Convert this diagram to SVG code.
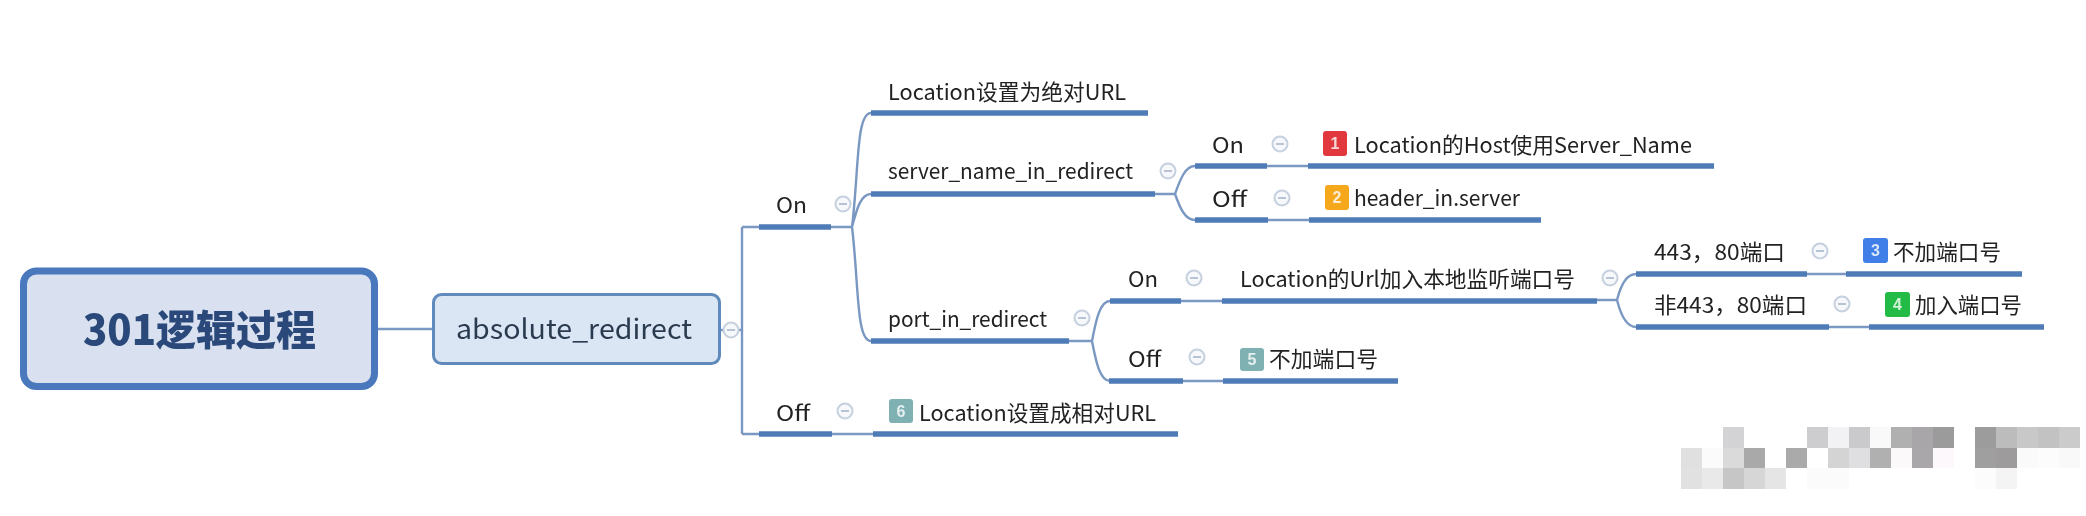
<svg xmlns="http://www.w3.org/2000/svg" width="2086" height="516" viewBox="0 0 2086 516">
<style>
text{font-family:"Noto Sans CJK SC","Liberation Sans",sans-serif;fill:#222;font-size:21.5px;font-weight:400}
.u{stroke:#4f7bb6;stroke-width:5.5;fill:none}
.c{stroke:#7a98c2;stroke-width:2.4;fill:none}
.n{font-size:16px;fill:#fff;text-anchor:middle;font-family:"Liberation Sans",sans-serif;font-weight:bold;opacity:.8}
.ic circle{fill:#f6f8fb;stroke:#c6d0de;stroke-width:2}
.ic path{stroke:#b8c4d4;stroke-width:2;fill:none}
.m{shape-rendering:crispEdges}
</style>
<defs>
<filter id="b" x="-2%" y="-5%" width="104%" height="110%"><feGaussianBlur stdDeviation="0.75"/></filter>
<g id="col" class="ic"><circle r="7.5"/><path d="M-4 0H4"/></g>
</defs>
<rect width="2086" height="516" fill="#fff"/>
<g filter="url(#b)">
<g id="connectors">
<path class="c" d="M378 329H432"/>
<path class="c" d="M721 330H742M742 227V434"/>
<path class="c" d="M742 227H759M742 434H759"/>
<path class="c" d="M831 227H852M852 227C859 170 856 113 871 113M852 227C857 208 861 194 871 194M852 227C859 285 856 341 871 341"/>
<path class="c" d="M1155 194H1175M1175 194C1180 180 1185 166 1195 166M1175 194C1180 208 1185 220 1195 220"/>
<path class="c" d="M1069 341H1092M1092 341C1096 320 1100 301 1110 301M1092 341C1096 362 1100 381 1110 381"/>
<path class="c" d="M1597 300H1617M1617 300C1620 288 1626 274 1636 274M1617 300C1620 312 1626 327 1636 327"/>
<path class="c" d="M1267 166H1308M1268 220H1309M832 434H873M1181 301H1222M1183 381H1223M1807 274H1846M1829 327H1869"/>
</g>
<g id="root"><rect x="23.500" y="271" width="351" height="115.500" rx="13" fill="#d9e0ef" stroke="#4a78bd" stroke-width="7"/>
<text x="83" y="345" style="font-size:41px;fill:#2a4a7a;font-weight:900" textLength="233" lengthAdjust="spacingAndGlyphs">301逻辑过程</text></g>
<g id="absolute_redirect"><rect x="433.500" y="294.500" width="286" height="69" rx="8" fill="#dbe6f4" stroke="#5f8abb" stroke-width="3"/>
<text x="456" y="339" style="font-size:27px;fill:#2b3a50" textLength="236" lengthAdjust="spacingAndGlyphs">absolute_redirect</text><use href="#col" x="731" y="330"/></g>
<g id="on"><path class="u" d="M759 227H831"/><text x="776" y="213" textLength="31" lengthAdjust="spacingAndGlyphs">On</text><use href="#col" x="843" y="204"/></g>
<g id="off"><path class="u" d="M759 434H832"/><text x="776" y="421" textLength="34" lengthAdjust="spacingAndGlyphs">Off</text><use href="#col" x="845" y="411"/></g>
<g id="loc-abs"><path class="u" d="M871 113H1148"/><text x="888" y="100" textLength="238" lengthAdjust="spacingAndGlyphs">Location设置为绝对URL</text></g>
<g id="server-name"><path class="u" d="M871 194H1155"/><text x="888" y="179" textLength="245" lengthAdjust="spacingAndGlyphs">server_name_in_redirect</text><use href="#col" x="1168" y="171"/></g>
<g id="port-in"><path class="u" d="M871 341H1069"/><text x="888" y="327" textLength="159" lengthAdjust="spacingAndGlyphs">port_in_redirect</text><use href="#col" x="1082" y="318"/></g>
<g id="loc-rel"><path class="u" d="M873 434H1178"/><rect x="889" y="399" width="24" height="24" rx="3" fill="#7fb0b2"/><text class="n" x="901" y="417">6</text><text x="919" y="421" textLength="237" lengthAdjust="spacingAndGlyphs">Location设置成相对URL</text></g>
<g id="sn-on"><path class="u" d="M1195 166H1267"/><text x="1212" y="153" textLength="32" lengthAdjust="spacingAndGlyphs">On</text><use href="#col" x="1280" y="144"/></g>
<g id="sn-off"><path class="u" d="M1195 220H1268"/><text x="1212" y="207" textLength="35" lengthAdjust="spacingAndGlyphs">Off</text><use href="#col" x="1282" y="198"/></g>
<g id="host"><path class="u" d="M1308 166H1714"/><rect x="1323" y="131" width="24" height="25" rx="3" fill="#e0383e"/><text class="n" x="1335" y="149">1</text><text x="1354" y="153" textLength="338" lengthAdjust="spacingAndGlyphs">Location的Host使用Server_Name</text></g>
<g id="header"><path class="u" d="M1309 220H1541"/><rect x="1325" y="185" width="24" height="25" rx="3" fill="#f5a81f"/><text class="n" x="1337" y="203">2</text><text x="1354" y="206" textLength="166" lengthAdjust="spacingAndGlyphs">header_in.server</text></g>
<g id="pi-on"><path class="u" d="M1110 301H1181"/><text x="1128" y="287" textLength="30" lengthAdjust="spacingAndGlyphs">On</text><use href="#col" x="1194" y="278"/></g>
<g id="pi-off"><path class="u" d="M1109 381H1183"/><text x="1128" y="367" textLength="33" lengthAdjust="spacingAndGlyphs">Off</text><use href="#col" x="1197" y="357"/></g>
<g id="listen"><path class="u" d="M1222 301H1597"/><text x="1240" y="287" textLength="335" lengthAdjust="spacingAndGlyphs">Location的Url加入本地监听端口号</text><use href="#col" x="1610" y="278"/></g>
<g id="no-port-5"><path class="u" d="M1223 381H1398"/><rect x="1240" y="348" width="24" height="23" rx="3" fill="#7fb0b2"/><text class="n" x="1252" y="365">5</text><text x="1269" y="367" textLength="109" lengthAdjust="spacingAndGlyphs">不加端口号</text></g>
<g id="p443"><path class="u" d="M1636 274H1807"/><text x="1654" y="260" textLength="131" lengthAdjust="spacingAndGlyphs">443，80端口</text><use href="#col" x="1820" y="251"/></g>
<g id="p-non443"><path class="u" d="M1636 327H1829"/><text x="1654" y="313" textLength="153" lengthAdjust="spacingAndGlyphs">非443，80端口</text><use href="#col" x="1842" y="304"/></g>
<g id="no-port-3"><path class="u" d="M1846 274H2022"/><rect x="1863" y="238" width="25" height="25" rx="3" fill="#3f7fe8"/><text class="n" x="1875.500" y="256">3</text><text x="1893" y="260" textLength="108" lengthAdjust="spacingAndGlyphs">不加端口号</text></g>
<g id="add-port-4"><path class="u" d="M1869 327H2044"/><rect x="1885" y="292" width="25" height="25" rx="3" fill="#22bb44"/><text class="n" x="1897.500" y="310">4</text><text x="1915" y="313" textLength="107" lengthAdjust="spacingAndGlyphs">加入端口号</text></g>
</g>
<g id="mosaic" class="m">
<rect x="1723" y="427" width="21" height="21" fill="#d3d3d5"/><rect x="1807" y="427" width="21" height="21" fill="#cdcdcf"/><rect x="1828" y="427" width="21" height="21" fill="#f2f2f4"/><rect x="1849" y="427" width="21" height="21" fill="#cacacc"/><rect x="1870" y="427" width="21" height="21" fill="#f9f9f9"/><rect x="1891" y="427" width="21" height="21" fill="#b0b0b0"/><rect x="1912" y="427" width="21" height="21" fill="#a8a6a9"/><rect x="1933" y="427" width="21" height="21" fill="#9b9b9c"/><rect x="1975" y="427" width="21" height="21" fill="#9c9c9c"/><rect x="1996" y="427" width="21" height="21" fill="#bcbcbc"/><rect x="2017" y="427" width="21" height="21" fill="#c8c8c8"/><rect x="2038" y="427" width="21" height="21" fill="#c2c2c2"/><rect x="2059" y="427" width="21" height="21" fill="#cbcbcb"/>
<rect x="1681" y="448" width="21" height="20" fill="#e0e0e0"/><rect x="1702" y="448" width="21" height="20" fill="#fbfbfb"/><rect x="1723" y="448" width="21" height="20" fill="#dadada"/><rect x="1744" y="448" width="21" height="20" fill="#a9a9a9"/><rect x="1786" y="448" width="21" height="20" fill="#aaaaaa"/><rect x="1828" y="448" width="21" height="20" fill="#d4d4d4"/><rect x="1849" y="448" width="21" height="20" fill="#dfdfe1"/><rect x="1870" y="448" width="21" height="20" fill="#b0b0b0"/><rect x="1891" y="448" width="21" height="20" fill="#fcf9fb"/><rect x="1912" y="448" width="21" height="20" fill="#a9a7aa"/><rect x="1933" y="448" width="21" height="20" fill="#fcf8fb"/><rect x="1975" y="448" width="21" height="20" fill="#9f9f9f"/><rect x="1996" y="448" width="21" height="20" fill="#9d9b9c"/><rect x="2017" y="448" width="21" height="20" fill="#fafafa"/><rect x="2038" y="448" width="21" height="20" fill="#fcfcfc"/><rect x="2059" y="448" width="21" height="20" fill="#f9f9f9"/>
<rect x="1681" y="468" width="21" height="21" fill="#e1e1e1"/><rect x="1702" y="468" width="21" height="21" fill="#e9e9e9"/><rect x="1723" y="468" width="21" height="21" fill="#c6c6c6"/><rect x="1744" y="468" width="21" height="21" fill="#d6d6d6"/><rect x="1765" y="468" width="21" height="21" fill="#e5e5e5"/><rect x="1807" y="468" width="21" height="21" fill="#fbfbfc"/><rect x="1828" y="468" width="21" height="21" fill="#fbfbfb"/><rect x="1975" y="468" width="21" height="21" fill="#fdfcfd"/><rect x="1996" y="468" width="21" height="21" fill="#f4f4f4"/>
</g>
</svg>
